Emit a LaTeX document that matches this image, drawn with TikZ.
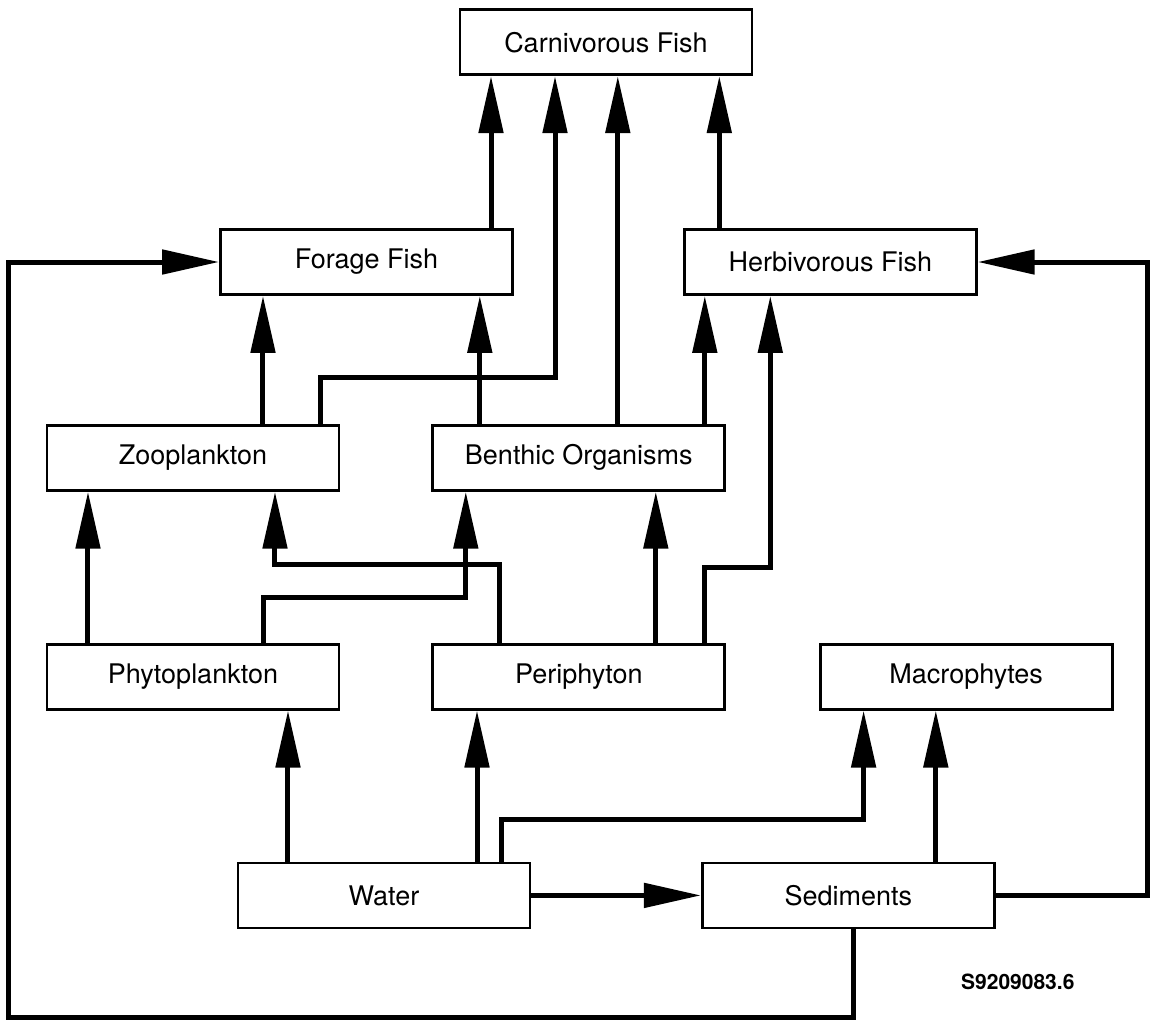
\documentclass[tikz,border=0pt]{standalone}
\usepackage{fontspec}
\setmainfont{TeX Gyre Heros}
\usetikzlibrary{arrows.meta,positioning}
\tikzset{
  box/.style={draw,line width=1.4pt,fill=white,minimum width=146pt,minimum height=32.5pt,
              inner sep=2pt,font=\fontsize{13.5}{16}\selectfont},
  flow/.style={-{Triangle[length=28.5pt,width=12pt]},line width=2.5pt},
  tag/.style={font=\fontsize{10.5}{12}\selectfont\bfseries,inner sep=1pt},
}
\begin{document}
\begin{tikzpicture}[node distance=75.5pt]
  \useasboundingbox (-183.25pt,131pt) rectangle (391.75pt,-378.5pt);

  \node[box] (forage) {Forage Fish};
  \node[box,right=84.5pt of forage] (herb) {Herbivorous Fish};
  \node[box,above=76pt of forage,xshift=119.75pt] (carn) {Carnivorous Fish};
  \node[box,below=64pt of forage,xshift=-86.75pt] (zoo) {Zooplankton};
  \node[box,right=45.5pt of zoo] (benth) {Benthic Organisms};
  \node[box,below=of zoo] (phyto) {Phytoplankton};
  \node[box,below=of benth] (peri) {Periphyton};
  \node[box,right=46.25pt of peri] (macro) {Macrophytes};
  \node[box,below=of phyto,xshift=95.5pt] (water) {Water};
  \node[box,right=84.75pt of water] (sed) {Sediments};
  \node[tag] (id) at ([xshift=84.75pt,yshift=-26.5pt]sed.south) {S9209083.6};

  \draw[flow] ([xshift=62.25pt]forage.north) -- ([xshift=62.25pt]forage.north |- carn.south);
  \draw[flow] ([xshift=64pt]zoo.north) -- ++(0,23pt) -| ([xshift=-25.5pt]carn.south);
  \draw[flow] ([xshift=19.5pt]benth.north) -- ([xshift=19.5pt]benth.north |- carn.south);
  \draw[flow] ([xshift=-55.5pt]herb.north) -- ([xshift=-55.5pt]herb.north |- carn.south);

  \draw[flow] ([xshift=35pt]zoo.north) -- ([xshift=35pt]zoo.north |- forage.south);
  \draw[flow] ([xshift=-49.5pt]benth.north) -- ([xshift=-49.5pt]benth.north |- forage.south);
  \draw[flow] ([xshift=63pt]benth.north) -- ([xshift=63pt]benth.north |- herb.south);
  \draw[flow] ([xshift=63pt]peri.north) -- ++(0,37.5pt) -| ([xshift=-30pt]herb.south);

  \draw[flow] ([xshift=38.5pt]peri.north) -- ([xshift=38.5pt]peri.north |- benth.south);
  \draw[flow] ([xshift=-52.5pt]phyto.north) -- ([xshift=-52.5pt]phyto.north |- zoo.south);
  \draw[flow] ([xshift=35.5pt]phyto.north) -- ++(0,22.5pt) -| ([xshift=-56.5pt]benth.south);
  \draw[flow] ([xshift=-39.5pt]peri.north) -- ++(0,39pt) -| ([xshift=41pt]zoo.south);

  \draw[flow] ([xshift=-48pt]water.north) -- ([xshift=-48pt]water.north |- phyto.south);
  \draw[flow] ([xshift=46.5pt]water.north) -- ([xshift=46.5pt]water.north |- peri.south);
  \draw[flow] ([xshift=58.5pt]water.north) -- ++(0,21pt) -| ([xshift=-51.25pt]macro.south);
  \draw[flow] ([xshift=43.75pt]sed.north) -- ([xshift=43.75pt]sed.north |- macro.south);

  \draw[flow] (water.east) -- (sed.west);
  \draw[flow] (sed.east) -- ++(76pt,0) |- (herb.east);
  \draw[flow] ([xshift=2.5pt]sed.south) -- ++(0,-44pt) -| ([xshift=-105.5pt]forage.west) -- (forage.west);
\end{tikzpicture}
\end{document}
